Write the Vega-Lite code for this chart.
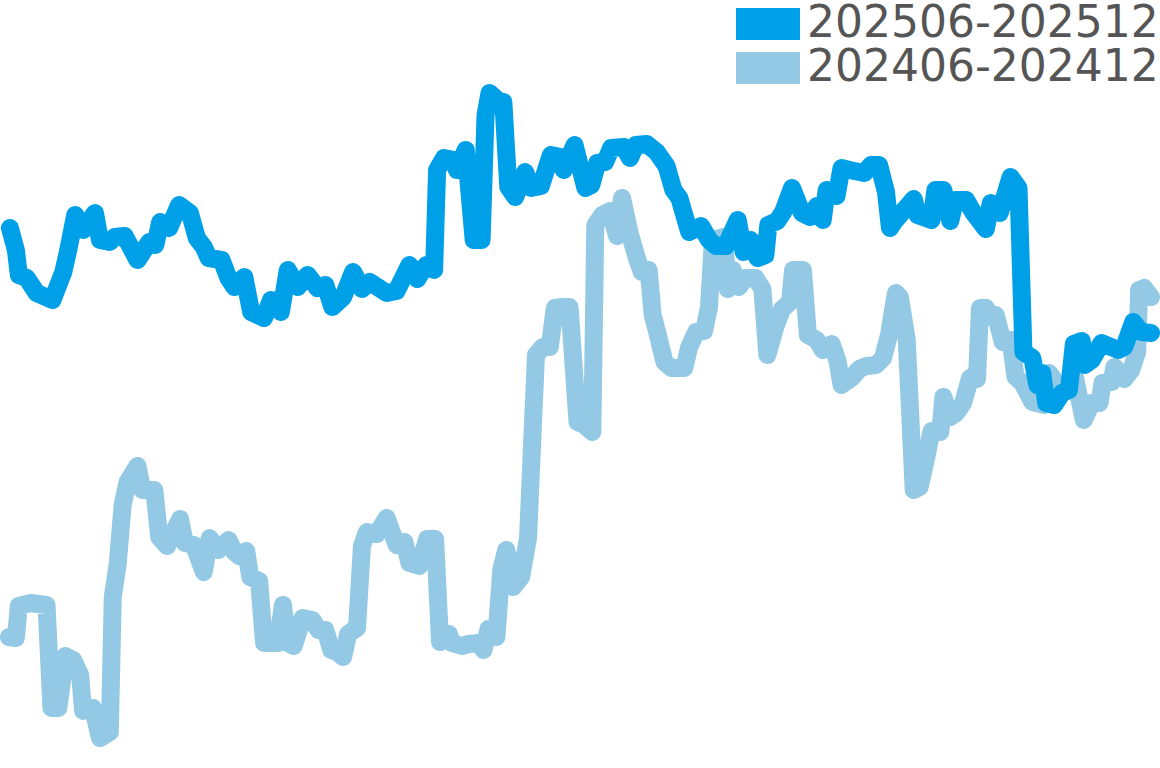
{
  "$schema": "https://vega.github.io/schema/vega-lite/v6.json",
  "width": 1160,
  "height": 768,
  "autosize": {"type": "fit", "contains": "padding"},
  "padding": 0,
  "background": "#ffffff",
  "config": {"view": {"stroke": null}},
  "datasets": {
    "cur": [
      {"t":6,"v":540},{"t":12,"v":518},{"t":15,"v":493},{"t":23,"v":490},{"t":33,"v":475},{"t":49,"v":468},{"t":60,"v":496},{"t":65,"v":518},{"t":72,"v":553},{"t":80,"v":538},{"t":92,"v":555},{"t":97,"v":528},{"t":107,"v":526},{"t":112,"v":531},{"t":122,"v":532},{"t":135,"v":508},{"t":147,"v":526},{"t":153,"v":523},{"t":158,"v":546},{"t":167,"v":540},{"t":177,"v":563},{"t":188,"v":555},{"t":195,"v":530},{"t":202,"v":521},{"t":207,"v":510},{"t":220,"v":508},{"t":227,"v":490},{"t":233,"v":481},{"t":243,"v":491},{"t":250,"v":456},{"t":263,"v":450},{"t":270,"v":468},{"t":280,"v":456},{"t":287,"v":498},{"t":297,"v":481},{"t":307,"v":493},{"t":317,"v":480},{"t":325,"v":483},{"t":332,"v":461},{"t":343,"v":471},{"t":353,"v":496},{"t":362,"v":479},{"t":370,"v":486},{"t":387,"v":475},{"t":397,"v":477},{"t":410,"v":503},{"t":418,"v":489},{"t":427,"v":503},{"t":435,"v":498},{"t":438,"v":598},{"t":445,"v":610},{"t":455,"v":608},{"t":458,"v":598},{"t":467,"v":618},{"t":475,"v":528},{"t":483,"v":528},{"t":487,"v":653},{"t":491,"v":675},{"t":499,"v":668},{"t":505,"v":666},{"t":510,"v":581},{"t":517,"v":571},{"t":527,"v":596},{"t":533,"v":580},{"t":543,"v":582},{"t":553,"v":613},{"t":563,"v":611},{"t":566,"v":598},{"t":577,"v":623},{"t":588,"v":580},{"t":594,"v":583},{"t":600,"v":605},{"t":608,"v":606},{"t":614,"v":620},{"t":627,"v":621},{"t":633,"v":610},{"t":639,"v":623},{"t":650,"v":624},{"t":660,"v":616},{"t":670,"v":602},{"t":677,"v":578},{"t":683,"v":570},{"t":693,"v":536},{"t":705,"v":542},{"t":713,"v":528},{"t":720,"v":522},{"t":730,"v":522},{"t":742,"v":548},{"t":748,"v":516},{"t":755,"v":528},{"t":762,"v":510},{"t":770,"v":513},{"t":773,"v":543},{"t":782,"v":547},{"t":788,"v":556},{"t":797,"v":580},{"t":807,"v":555},{"t":815,"v":551},{"t":822,"v":562},{"t":828,"v":548},{"t":832,"v":578},{"t":842,"v":572},{"t":847,"v":600},{"t":855,"v":598},{"t":870,"v":595},{"t":877,"v":603},{"t":885,"v":603},{"t":892,"v":576},{"t":896,"v":540},{"t":900,"v":546},{"t":920,"v":569},{"t":924,"v":553},{"t":938,"v":548},{"t":942,"v":578},{"t":950,"v":578},{"t":957,"v":547},{"t":962,"v":568},{"t":973,"v":568},{"t":980,"v":556},{"t":993,"v":539},{"t":998,"v":565},{"t":1007,"v":555},{"t":1018,"v":591},{"t":1026,"v":580},{"t":1031,"v":416},{"t":1040,"v":410},{"t":1045,"v":383},{"t":1050,"v":395},{"t":1054,"v":365},{"t":1062,"v":363},{"t":1070,"v":375},{"t":1077,"v":378},{"t":1082,"v":424},{"t":1090,"v":427},{"t":1093,"v":403},{"t":1100,"v":408},{"t":1110,"v":425},{"t":1127,"v":418},{"t":1133,"v":421},{"t":1142,"v":446},{"t":1150,"v":436},{"t":1160,"v":435}
    ],
    "prev": [
      {"t":5,"v":131},{"t":12,"v":130},{"t":15,"v":162},{"t":27,"v":165},{"t":43,"v":163},{"t":48,"v":60},{"t":55,"v":60},{"t":62,"v":112},{"t":70,"v":108},{"t":77,"v":93},{"t":80,"v":57},{"t":90,"v":60},{"t":97,"v":30},{"t":107,"v":36},{"t":110,"v":171},{"t":115,"v":204},{"t":120,"v":263},{"t":125,"v":286},{"t":135,"v":302},{"t":140,"v":278},{"t":152,"v":278},{"t":157,"v":231},{"t":165,"v":222},{"t":178,"v":249},{"t":183,"v":225},{"t":192,"v":223},{"t":202,"v":196},{"t":208,"v":230},{"t":217,"v":218},{"t":227,"v":228},{"t":233,"v":216},{"t":238,"v":212},{"t":245,"v":217},{"t":249,"v":191},{"t":258,"v":187},{"t":263,"v":125},{"t":277,"v":125},{"t":282,"v":163},{"t":287,"v":125},{"t":293,"v":122},{"t":302,"v":150},{"t":312,"v":148},{"t":318,"v":138},{"t":325,"v":138},{"t":331,"v":118},{"t":337,"v":116},{"t":343,"v":111},{"t":348,"v":134},{"t":357,"v":140},{"t":362,"v":222},{"t":367,"v":236},{"t":377,"v":234},{"t":387,"v":250},{"t":397,"v":223},{"t":405,"v":226},{"t":410,"v":205},{"t":420,"v":202},{"t":428,"v":229},{"t":436,"v":229},{"t":441,"v":126},{"t":450,"v":134},{"t":453,"v":125},{"t":463,"v":122},{"t":470,"v":124},{"t":480,"v":125},{"t":485,"v":118},{"t":490,"v":139},{"t":498,"v":131},{"t":503,"v":199},{"t":508,"v":218},{"t":515,"v":181},{"t":523,"v":191},{"t":530,"v":230},{"t":535,"v":345},{"t":538,"v":413},{"t":545,"v":421},{"t":552,"v":421},{"t":557,"v":460},{"t":565,"v":461},{"t":572,"v":461},{"t":580,"v":346},{"t":587,"v":343},{"t":595,"v":336},{"t":598,"v":543},{"t":605,"v":553},{"t":613,"v":557},{"t":620,"v":532},{"t":625,"v":570},{"t":633,"v":534},{"t":640,"v":510},{"t":645,"v":496},{"t":652,"v":498},{"t":656,"v":453},{"t":660,"v":438},{"t":668,"v":406},{"t":675,"v":400},{"t":688,"v":400},{"t":693,"v":421},{"t":700,"v":436},{"t":708,"v":437},{"t":713,"v":461},{"t":717,"v":528},{"t":728,"v":531},{"t":732,"v":479},{"t":737,"v":498},{"t":743,"v":481},{"t":750,"v":490},{"t":760,"v":490},{"t":767,"v":479},{"t":772,"v":413},{"t":780,"v":441},{"t":787,"v":459},{"t":795,"v":466},{"t":798,"v":498},{"t":808,"v":498},{"t":813,"v":433},{"t":822,"v":428},{"t":828,"v":418},{"t":837,"v":424},{"t":843,"v":407},{"t":847,"v":383},{"t":857,"v":390},{"t":865,"v":399},{"t":872,"v":402},{"t":882,"v":403},{"t":889,"v":410},{"t":895,"v":433},{"t":902,"v":475},{"t":906,"v":471},{"t":913,"v":428},{"t":920,"v":278},{"t":926,"v":281},{"t":932,"v":307},{"t":938,"v":337},{"t":947,"v":336},{"t":950,"v":371},{"t":957,"v":351},{"t":963,"v":355},{"t":970,"v":365},{"t":977,"v":390},{"t":984,"v":389},{"t":987,"v":460},{"t":993,"v":460},{"t":998,"v":451},{"t":1003,"v":453},{"t":1010,"v":426},{"t":1018,"v":428},{"t":1023,"v":391},{"t":1030,"v":385},{"t":1040,"v":366},{"t":1052,"v":363},{"t":1057,"v":395},{"t":1066,"v":383},{"t":1073,"v":378},{"t":1083,"v":391},{"t":1092,"v":348},{"t":1100,"v":365},{"t":1108,"v":365},{"t":1111,"v":385},{"t":1120,"v":386},{"t":1123,"v":401},{"t":1133,"v":389},{"t":1140,"v":398},{"t":1146,"v":416},{"t":1148,"v":478},{"t":1153,"v":480},{"t":1160,"v":471}
    ]
  },
  "layer": [
    {
      "data": {"name": "prev"},
      "mark": {"type": "line", "strokeWidth": 18, "strokeCap": "round", "strokeJoin": "round"},
      "encoding": {
        "x": {"field": "t", "type": "quantitative", "scale": {"domain": [0, 1160], "nice": false, "zero": false}, "axis": null},
        "y": {"field": "v", "type": "quantitative", "scale": {"domain": [0, 768], "nice": false, "zero": false}, "axis": null},
        "color": {
          "datum": "202406-202412",
          "type": "nominal",
          "scale": {"domain": ["202506-202512", "202406-202412"], "range": ["#00A0E9", "#93C9E4"]},
          "legend": {
            "title": null,
            "orient": "none",
            "legendX": 732,
            "legendY": 2,
            "padding": 0,
            "rowPadding": 0,
            "clipHeight": 44,
            "labelFontSize": 44,
            "labelFont": "DejaVu Sans",
            "labelColor": "#555555",
            "labelOffset": 7,
            "labelLimit": 1000,
            "symbolType": "M-1,-0.5H1V0.5H-1Z",
            "symbolSize": 4096,
            "symbolStrokeWidth": 0,
            "symbolOpacity": 1,
            "encode": {"symbols": {"update": {"fill": {"scale": "color", "field": "value"}, "stroke": {"value": "transparent"}, "strokeWidth": {"value": 0}}}}
          }
        }
      }
    },
    {
      "data": {"name": "cur"},
      "mark": {"type": "line", "strokeWidth": 18, "strokeCap": "round", "strokeJoin": "round"},
      "encoding": {
        "x": {"field": "t", "type": "quantitative"},
        "y": {"field": "v", "type": "quantitative"},
        "color": {"datum": "202506-202512", "type": "nominal"}
      }
    }
  ]
}
